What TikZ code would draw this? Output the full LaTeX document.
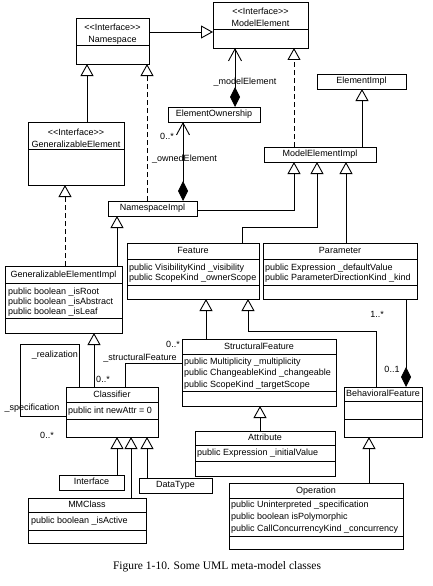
\documentclass[tikz,border=0pt]{standalone}
\usepackage{fontspec}
\setmainfont{Liberation Serif}
\newfontfamily\umlfont{Liberation Sans}
\usetikzlibrary{arrows.meta}

\tikzset{
  box/.style={draw, line width=0.9pt, inner sep=0pt, outer sep=0pt, fill=white},
  umltext/.style={font=\umlfont\fontsize{9}{10}\selectfont, inner sep=0pt},
  ttl/.style={umltext, anchor=mid},
  attr/.style={umltext, anchor=mid west},
  lbl/.style={umltext, anchor=mid},
  conn/.style={line width=0.9pt},
  gen/.style={conn, -{Triangle[open, length=12pt, width=13pt]}},
  real/.style={gen, dash pattern=on 5pt off 3pt},
  comp/.style={conn, {Straight Barb[length=12pt, width=13pt]}-{Diamond[length=20pt, width=10pt]}},
  assoc/.style={conn},
  divider/.style={line width=0.9pt},
}

\newcommand\umlcls[5]{%
  \node[box, minimum width={(#4)-(#2)}, minimum height={(#5)-(#3)}] (#1) at ({((#2)+(#4))/2},{((#3)+(#5))/2}) {};}
\newcommand\umldiv[2]{\draw[divider] (#1.west |- 0,#2) -- (#1.east |- 0,#2);}

\begin{document}
\begin{tikzpicture}[x=1pt,y=-1pt]
\fill[white] (0,0) rectangle (433,586);
\useasboundingbox (0,0) rectangle (433,586);

% ---------- boxes ----------
\umlcls{NS}{76}{18}{149}{64}
\umldiv{NS}{45}
\node[ttl] (NSs) at (NS.center |- 0,28) {<<Interface>>};
\node[ttl] (NSt) at (NS.center |- 0,40) {Namespace};

\umlcls{ME}{213}{2}{308}{48}
\umldiv{ME}{29}
\node[ttl] (MEs) at (ME.center |- 0,12) {<<Interface>>};
\node[ttl] (MEt) at (ME.center |- 0,24) {ModelElement};

\umlcls{GE}{28}{122}{124}{185}
\umldiv{GE}{149}
\node[ttl] (GEs) at (GE.center |- 0,133) {<<Interface>>};
\node[ttl] (GEt) at (GE.center |- 0,145) {GeneralizableElement};

\umlcls{GEI}{5}{266}{122}{333}
\umldiv{GEI}{283}
\umldiv{GEI}{318}
\node[ttl] (GEIt) at (GEI.center |- 0,275) {GeneralizableElementImpl};
\node[attr] (GEIa) at (8,292) {public boolean \_isRoot};
\node[attr] (GEIb) at (8,302) {public boolean \_isAbstract};
\node[attr] (GEIc) at (8,312) {public boolean \_isLeaf};

\umlcls{NSI}{108}{201}{197}{216}
\node[ttl] (NSIt) at (NSI.center) {NamespaceImpl};

\umlcls{EO}{168}{107}{260}{122}
\node[ttl] (EOt) at (EO.center) {ElementOwnership};

\umlcls{EI}{317}{74}{406}{89}
\node[ttl] (EIt) at (EI.center) {ElementImpl};

\umlcls{MEI}{264}{147}{376}{162}
\node[ttl] (MEIt) at (MEI.center) {ModelElementImpl};

\umlcls{FE}{127}{243}{259}{299}
\umldiv{FE}{259}
\umldiv{FE}{285}
\node[ttl] (FEt) at (FE.center |- 0,251.5) {Feature};
\node[attr] (FEa) at (129,268) {public VisibilityKind \_visibility};
\node[attr] (FEb) at (129,278) {public ScopeKind \_ownerScope};

\umlcls{PA}{263}{243}{417}{299}
\umldiv{PA}{259}
\umldiv{PA}{285}
\node[ttl] (PAt) at (PA.center |- 0,251.5) {Parameter};
\node[attr] (PAa) at (265,268) {public Expression \_defaultValue};
\node[attr] (PAb) at (265,278) {public ParameterDirectionKind \_kind};

\umlcls{SF}{182}{339}{336}{406}
\umldiv{SF}{354}
\umldiv{SF}{391}
\node[ttl] (SFt) at (SF.center |- 0,347) {StructuralFeature};
\node[attr] (SFa) at (184,362) {public Multiplicity \_multiplicity};
\node[attr] (SFb) at (184,373.5) {public ChangeableKind \_changeable};
\node[attr] (SFc) at (184,385) {public ScopeKind \_targetScope};

\umlcls{BF}{344}{387}{422}{437}
\umldiv{BF}{401}
\umldiv{BF}{419}
\node[ttl] (BFt) at (BF.center |- 0,394) {BehavioralFeature};

\umlcls{CL}{66}{387}{158}{437}
\umldiv{CL}{402}
\umldiv{CL}{419}
\node[ttl] (CLt) at (CL.center |- 0,395) {Classifier};
\node[attr] (CLa) at (68,411) {public int newAttr = 0};

\umlcls{IF}{59}{475}{124}{490}
\node[ttl] (IFt) at (IF.center) {Interface};

\umlcls{DT}{139}{478}{212}{493}
\node[ttl] (DTt) at (DT.center) {DataType};

\umlcls{MM}{28}{498}{146}{543}
\umldiv{MM}{512}
\umldiv{MM}{530}
\node[ttl] (MMt) at (MM.center |- 0,505.5) {MMClass};
\node[attr] (MMa) at (31,521) {public boolean \_isActive};

\umlcls{AT}{195}{431}{335}{476}
\umldiv{AT}{445}
\umldiv{AT}{461}
\node[ttl] (ATt) at (AT.center |- 0,438.5) {Attribute};
\node[attr] (ATa) at (197,453) {public Expression \_initialValue};

\umlcls{OP}{229}{483}{403}{549}
\umldiv{OP}{498}
\umldiv{OP}{536}
\node[ttl] (OPt) at (OP.center |- 0,491) {Operation};
\node[attr] (OPa) at (231,505) {public Uninterpreted \_specification};
\node[attr] (OPb) at (231,517) {public boolean isPolymorphic};
\node[attr] (OPc) at (231,529) {public CallConcurrencyKind \_concurrency};

% ---------- connectors ----------
\draw[gen] (NS.east |- 0,32) -- (ME.west |- 0,32);
\draw[gen] (GE.north -| 87,0) -- (NS.south -| 87,0);
\draw[real] (NSI.north -| 147,0) -- (NS.south -| 147,0);

\node[lbl] (Lme) at (245,82) {\_modelElement};
\draw[comp] (ME.south -| 235,0) -- (EO.north -| 235,0);

\node[lbl] (Lown0) at (167,137) {0..*};
\node[lbl] (Lown) at (184.5,159) {\_ownedElement};
\draw[comp] (EO.south -| 183,0) -- (NSI.north -| 183,0);

\draw[real] (GEI.north -| 65,0) -- (GE.south -| 65,0);
\draw[gen] (GEI.north -| 117,0) -- (NSI.south -| 117,0);

\draw[real] (MEI.north -| 294,0) -- (ME.south -| 294,0);
\draw[gen] (MEI.north -| 362,0) -- (EI.south -| 362,0);

\draw[gen] (NSI.east |- 0,210) -| (MEI.south -| 294,0);
\draw[gen] (FE.north -| 242,0) -- ++(0,-16) -| (MEI.south -| 317,0);
\draw[gen] (PA.north -| 346,0) -- (MEI.south -| 346,0);

\draw[gen] (SF.north -| 206,0) -- (FE.south -| 206,0);
\draw[gen] (BF.north -| 376,0) -- ++(0,-56) -| (FE.south -| 248,0);

\node[lbl] (Lpa1) at (377,315) {1..*};
\node[lbl] (Lpa2) at (392,370) {0..1};
\draw[conn, -{Diamond[length=20pt, width=10pt]}] (PA.south -| 406,0) -- (BF.north -| 406,0);

\node[lbl] (Lcl0) at (103,380) {0..*};
\draw[gen] (CL.north -| 94,0) -- (GEI.south -| 94,0);

\node[lbl] (Lreal) at (55,355) {\_realization};
\node[lbl] (Lspec) at (32,408) {\_specification};
\node[lbl] (Lspec0) at (47,436) {0..*};
\draw[assoc] (CL.north -| 79,0) -- ++(0,-43) -- ++(-59,0) |- (CL.west |- 0,416);

\node[lbl] (Lsf) at (140,358) {\_structuralFeature};
\node[lbl] (Lsf0) at (173,345) {0..*};
\draw[assoc] (CL.north -| 125,0) |- (SF.west |- 0,363);

\draw[gen] (IF.north -| 117,0) -- (CL.south -| 117,0);
\draw[gen] (MM.north -| 131,0) -- (CL.south -| 131,0);
\draw[gen] (DT.north -| 147,0) -- (CL.south -| 147,0);

\draw[gen] (AT.north -| 260,0) -- (SF.south -| 260,0);
\draw[gen] (OP.north -| 369,0) -- (BF.south -| 369,0);

% ---------- caption ----------
\node[inner sep=0pt, anchor=mid, font=\fontsize{11.5}{13}\selectfont] (cap) at (217,567) {Figure 1-10. Some UML meta-model classes};
\end{tikzpicture}
\end{document}
